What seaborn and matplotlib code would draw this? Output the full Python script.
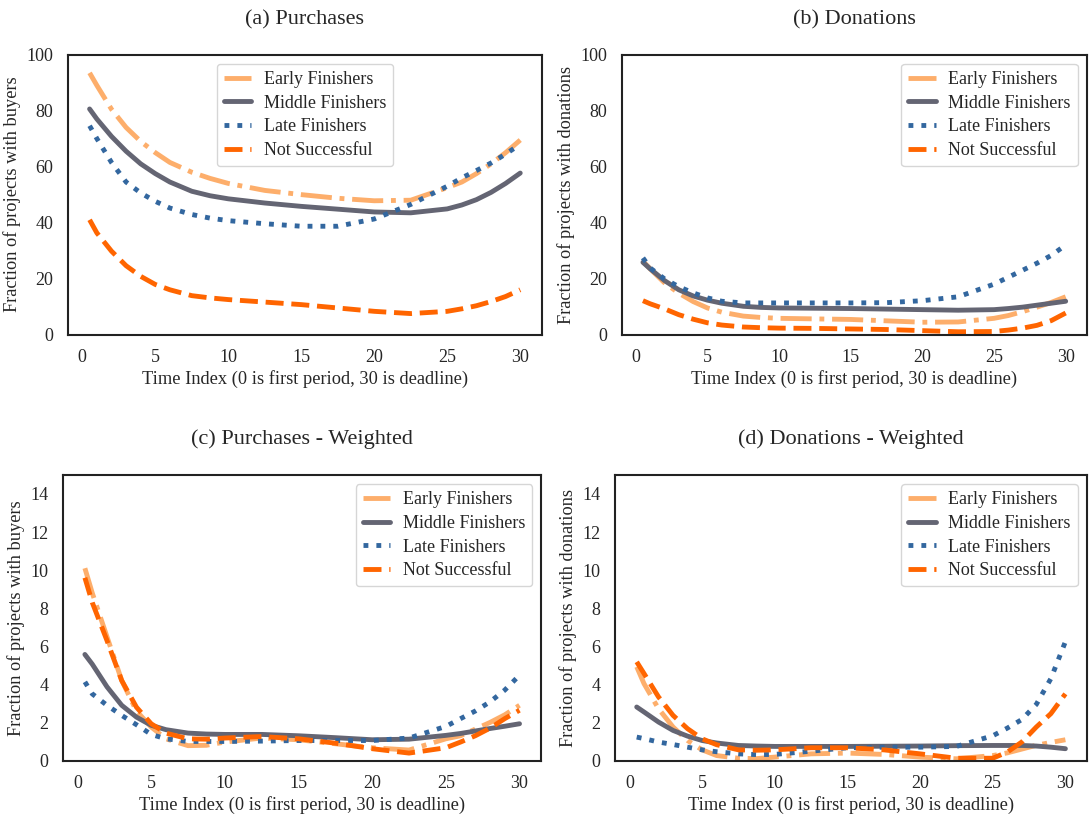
import pandas as pd
import matplotlib.pyplot as plt
import seaborn as sns

# ---------------- data ----------------
time_idx = [0.5, 1, 2, 3, 4, 5, 6, 7.5, 8.75, 10, 12.5, 15, 17.5, 20, 22.5, 25, 26, 27, 28, 29, 30]

groups = ["Early Finishers", "Middle Finishers", "Late Finishers", "Not Successful"]

# (a) Purchases
purch_early = [93.5, 89, 80.5, 74, 69, 65, 61.5, 58, 55.8, 54, 51.5, 50, 48.7, 47.8, 48, 52.5, 54.5, 57.5, 61, 65, 69.5]
purch_middle = [80.6, 77, 70.8, 65.5, 61, 57.5, 54.5, 51.2, 49.6, 48.5, 47, 45.8, 44.8, 43.8, 43.5, 44.9, 46.3, 48.2, 50.8, 54, 57.7]
purch_late = [74.6, 70, 61.5, 54.5, 50.6, 47.6, 45.2, 42.9, 41.6, 40.7, 39.6, 38.7, 38.7, 41.3, 46.5, 53, 56, 58.6, 61.3, 64.5, 68]
purch_not = [41, 36.3, 29.8, 24.6, 20.8, 17.9, 16, 13.9, 13.1, 12.5, 11.6, 10.7, 9.5, 8.3, 7.5, 8.3, 9.2, 10.3, 11.8, 13.6, 16]

# (b) Donations
don_early = [26.2, 23.5, 18.5, 14.8, 11.8, 9.5, 8, 6.6, 6.1, 5.8, 5.6, 5.4, 4.9, 4.4, 4.5, 5.8, 6.8, 8.2, 9.8, 11.5, 13.5]
don_middle = [25.8, 23.5, 19.3, 16, 13.8, 12.3, 11.2, 10.1, 9.7, 9.5, 9.4, 9.3, 9.1, 8.9, 8.7, 8.9, 9.3, 9.8, 10.5, 11.2, 11.9]
don_late = [27.4, 23.8, 19.9, 17.1, 14.9, 13.1, 11.9, 11.3, 11.3, 11.3, 11.3, 11.3, 11.4, 12.1, 13.5, 18, 20.5, 23, 25.5, 28.3, 32]
don_not = [12.1, 11, 9.2, 7.1, 5.5, 4.2, 3.4, 2.7, 2.45, 2.3, 2.2, 2, 1.8, 1.4, 1.0, 1.1, 1.6, 2.3, 3.3, 5, 7.7]

# (c) Purchases - Weighted
wpurch_early = [10.1, 8.8, 6.5, 4.2, 2.6, 1.76, 1.14, 0.78, 0.8, 0.97, 1.18, 1.09, 0.88, 0.67, 0.55, 1.14, 1.3, 1.65, 2.0, 2.4, 2.9]
wpurch_middle = [5.57, 5.06, 3.87, 2.9, 2.28, 1.85, 1.62, 1.44, 1.39, 1.37, 1.37, 1.3, 1.2, 1.09, 1.12, 1.32, 1.42, 1.55, 1.68, 1.8, 1.93]
wpurch_late = [4.13, 3.5, 2.9, 2.37, 1.88, 1.37, 1.14, 1.0, 1.0, 1.0, 1.02, 1.05, 1.05, 1.05, 1.18, 1.79, 2.2, 2.6, 3.08, 3.7, 4.48]
wpurch_not = [9.6, 8.3, 6.3, 4.2, 2.8, 1.93, 1.44, 1.14, 1.12, 1.18, 1.26, 1.14, 0.91, 0.62, 0.39, 0.67, 0.97, 1.3, 1.7, 2.2, 2.64]

# (d) Donations - Weighted
wdon_early = [4.92, 4.04, 2.72, 1.76, 1.05, 0.56, 0.26, 0.12, 0.1, 0.18, 0.35, 0.39, 0.32, 0.18, 0.09, 0.26, 0.4, 0.6, 0.8, 0.95, 1.09]
wdon_middle = [2.81, 2.55, 2.02, 1.58, 1.28, 1.05, 0.92, 0.79, 0.76, 0.74, 0.74, 0.74, 0.75, 0.76, 0.78, 0.79, 0.79, 0.79, 0.76, 0.7, 0.62]
wdon_late = [1.23, 1.15, 0.97, 0.84, 0.7, 0.56, 0.46, 0.35, 0.31, 0.32, 0.49, 0.67, 0.7, 0.7, 0.74, 1.3, 1.7, 2.15, 2.95, 4.3, 6.24]
wdon_not = [5.18, 4.57, 3.34, 2.37, 1.67, 1.14, 0.83, 0.56, 0.54, 0.56, 0.67, 0.67, 0.56, 0.35, 0.12, 0.12, 0.44, 0.97, 1.76, 2.46, 3.5]

# ---------------- styling ----------------
sns.set_theme(style="white")
plt.rcParams["font.family"] = ["Liberation Serif", "DejaVu Serif"]
plt.rcParams["axes.edgecolor"] = "#222222"
plt.rcParams["axes.linewidth"] = 1.5

colors = {"Early Finishers": "#fdae6b", "Middle Finishers": "#646573",
          "Late Finishers": "#33679f", "Not Successful": "#ff6500"}
styles = {"Early Finishers": "-.", "Middle Finishers": "-",
          "Late Finishers": ":", "Not Successful": "--"}

panels = [
    ("(a) Purchases", "Fraction of projects with buyers",
     [purch_early, purch_middle, purch_late, purch_not], (0, 100), range(0, 101, 20), "upper center"),
    ("(b) Donations", "Fraction of projects with donations",
     [don_early, don_middle, don_late, don_not], (0, 100), range(0, 101, 20), "upper right"),
    ("(c) Purchases - Weighted", "Fraction of projects with buyers",
     [wpurch_early, wpurch_middle, wpurch_late, wpurch_not], (0, 15), range(0, 15, 2), "upper right"),
    ("(d) Donations - Weighted", "Fraction of projects with donations",
     [wdon_early, wdon_middle, wdon_late, wdon_not], (0, 15), range(0, 15, 2), "upper right"),
]

# axes positions in figure fraction [left, bottom, width, height]
positions = [
    [0.0625, 0.590, 0.435, 0.343],
    [0.571, 0.590, 0.427, 0.343],
    [0.058, 0.068, 0.439, 0.350],
    [0.565, 0.068, 0.433, 0.350],
]

fig = plt.figure(figsize=(10.89, 8.16), dpi=100)

for (title, ylab, series, ylim, yticks, loc), pos in zip(panels, positions):
    ax = fig.add_axes(pos)
    for name, vals in zip(groups, series):
        df = pd.DataFrame({"t": time_idx, "v": vals})
        sns.lineplot(data=df, x="t", y="v", ax=ax, color=colors[name],
                     linestyle=styles[name], linewidth=3.5, label=name)
    ax.set_ylim(*ylim)
    ax.set_yticks(list(yticks))
    ax.set_xticks(range(0, 31, 5))
    ax.set_title(title, fontsize=16, pad=22)
    ax.set_ylabel(ylab, fontsize=13.2)
    ax.set_xlabel("Time Index (0 is first period, 30 is deadline)", fontsize=13.2, labelpad=3)
    ax.tick_params(labelsize=13, pad=4.5)
    ax.legend(loc=loc, fontsize=13, frameon=True, handlelength=1.5,
              handletextpad=0.7, labelspacing=0.37)

fig.savefig("out.png", dpi=100)
